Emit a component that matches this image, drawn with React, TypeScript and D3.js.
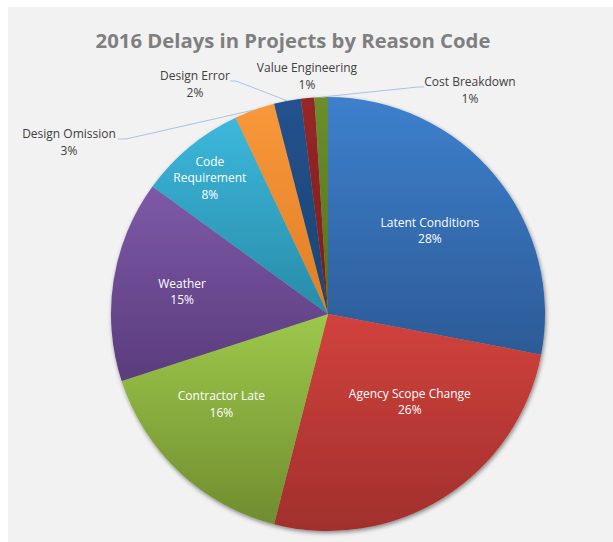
import React, { useEffect, useRef } from 'react';
import * as d3 from 'd3';

// chart data
const categories = [
  'Latent Conditions',
  'Agency Scope Change',
  'Contractor Late',
  'Weather',
  'Code Requirement',
  'Design Omission',
  'Design Error',
  'Value Engineering',
  'Cost Breakdown'
];
const values = [28, 26, 16, 15, 8, 3, 2, 1, 1];
// gradient colours per slice, [top, bottom]
const colors = [
  ['#3d80cd', '#2c5b97'],
  ['#d2423d', '#a12f2c'],
  ['#9dc84b', '#708d2f'],
  ['#7e59a8', '#5a3c7c'],
  ['#3cb8dc', '#288ba8'],
  ['#f8983b', '#e07e24'],
  ['#22528d', '#1c4473'],
  ['#982727', '#7c1c1c'],
  ['#6b8e2d', '#55711f']
];
const title = '2016 Delays in Projects by Reason Code';

const width = 613;
const height = 542;

function App() {
  const ref = useRef(null);

  useEffect(() => {
    const svg = d3.select(ref.current);
    svg.selectAll('*').remove();

    const cx = 328;
    const cy = 314;
    const radius = 217;
    const fontFamily = '"Open Sans", sans-serif';

    const defs = svg.append('defs');
    colors.forEach((c, i) => {
      const g = defs.append('linearGradient')
        .attr('id', `grad${i}`)
        .attr('x1', 0).attr('y1', 0)
        .attr('x2', 0).attr('y2', 1);
      g.append('stop').attr('offset', '0%').attr('stop-color', c[0]);
      g.append('stop').attr('offset', '100%').attr('stop-color', c[1]);
    });
    const shadow = defs.append('filter')
      .attr('id', 'shadow')
      .attr('x', '-10%').attr('y', '-10%')
      .attr('width', '120%').attr('height', '120%');
    shadow.append('feDropShadow')
      .attr('dx', 1).attr('dy', 2)
      .attr('stdDeviation', 2)
      .attr('flood-color', '#000')
      .attr('flood-opacity', 0.45);

    // chart area background
    svg.append('rect')
      .attr('x', 8).attr('y', 7)
      .attr('width', width - 8).attr('height', height - 7)
      .attr('fill', '#f2f2f2');

    svg.append('text')
      .attr('x', 293)
      .attr('y', 48)
      .attr('text-anchor', 'middle')
      .attr('font-family', fontFamily)
      .attr('font-weight', 'bold')
      .attr('font-size', 20.3)
      .attr('fill', '#7f7f7f')
      .text(title);

    const pie = d3.pie().sort(null).value((d) => d);
    const arcs = pie(values);
    const arc = d3.arc().innerRadius(0).outerRadius(radius);

    const g = svg.append('g')
      .attr('transform', `translate(${cx},${cy})`);

    g.append('g')
      .attr('filter', 'url(#shadow)')
      .selectAll('path')
      .data(arcs)
      .enter()
      .append('path')
      .attr('d', arc)
      .attr('fill', (d, i) => `url(#grad${i})`);

    // inside labels: radius fraction and angle shift (degrees) per slice,
    // excel doesn't put them exactly on the mid angle
    const insideR = [0.605, 0.553, 0.645, 0.68, 0.83];
    const insideShift = [0.5, -10.6, 6.4, -0.4, -1.4];
    const lineH = 16.5;
    arcs.slice(0, 5).forEach((d, i) => {
      const r = radius * insideR[i];
      const a = (d.startAngle + d.endAngle) / 2 + (insideShift[i] * Math.PI) / 180;
      const px = r * Math.sin(a);
      const py = -r * Math.cos(a);
      const lines = i === 4 ? ['Code', 'Requirement'] : [categories[i]];
      lines.push(`${values[i]}%`);
      const t = g.append('text')
        .attr('text-anchor', 'middle')
        .attr('font-family', fontFamily)
        .attr('font-size', 12)
        .attr('fill', '#ffffff');
      const y0 = py - ((lines.length - 1) * lineH) / 2 + 4;
      lines.forEach((l, j) => {
        t.append('tspan')
          .attr('x', px)
          .attr('y', y0 + j * lineH)
          .text(l);
      });
    });

    // outside labels with leader lines
    const outside = [
      { i: 5, x: 69, y: 138, ex: 118, ey: 139, hx: 126 },
      { i: 6, x: 195, y: 80, ex: 230, ey: 81, hx: 236 },
      { i: 7, x: 307, y: 72, ex: null, ey: null, hx: null },
      { i: 8, x: 470, y: 86, ex: 424, ey: 87, hx: 418 }
    ];
    const edge = d3.arc().innerRadius(radius).outerRadius(radius);
    outside.forEach((o) => {
      const d = arcs[o.i];
      if (o.ex !== null) {
        const p = edge.centroid(d);
        svg.append('polyline')
          .attr('points', `${o.ex},${o.ey} ${o.hx},${o.ey} ${p[0] + cx},${p[1] + cy}`)
          .attr('fill', 'none')
          .attr('stroke', '#a9c3e2')
          .attr('stroke-width', 1);
      }
      const t = svg.append('text')
        .attr('text-anchor', 'middle')
        .attr('font-family', fontFamily)
        .attr('font-size', 12)
        .attr('fill', '#404040');
      t.append('tspan').attr('x', o.x).attr('y', o.y).text(categories[o.i]);
      t.append('tspan').attr('x', o.x).attr('y', o.y + lineH).text(`${values[o.i]}%`);
    });
  }, []);

  return (
    <svg
      ref={ref}
      width={width}
      height={height}
      style={{ position: 'absolute', left: 0, top: 0 }}
    />
  );
}

export default App;
